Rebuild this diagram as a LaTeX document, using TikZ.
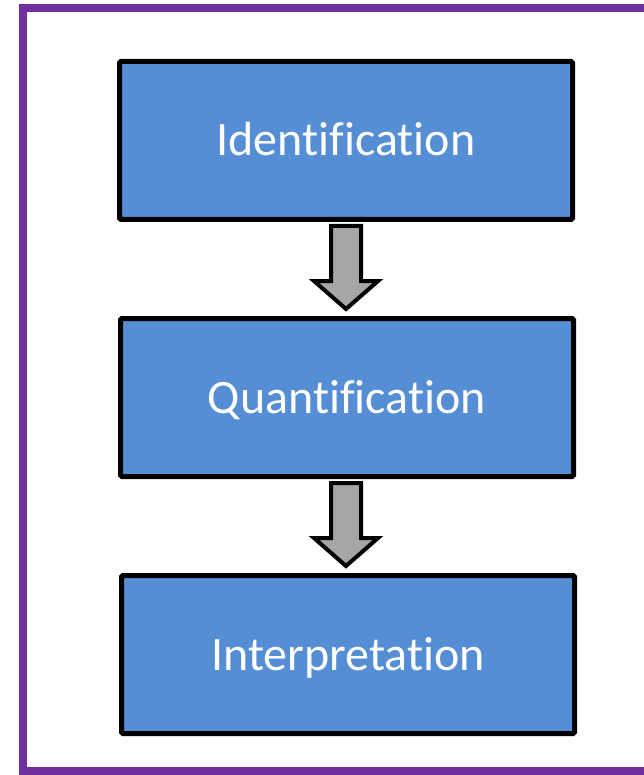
\documentclass[tikz,border=0pt]{standalone}
\usepackage{fontspec}
\setmainfont{Carlito}[Ligatures=NoCommon]
\usetikzlibrary{calc}
\definecolor{boxblue}{RGB}{85,142,213}
\definecolor{framepurple}{RGB}{112,48,160}
\definecolor{arrowgray}{RGB}{166,166,166}
\begin{document}
\begin{tikzpicture}[x=1pt,y=-1pt,
  stagebox/.style={draw=black,line width=5pt,fill=boxblue,rounded corners=1.5pt,
    minimum width=453pt,minimum height=158pt,inner sep=0pt,text=white,
    text height=31pt,text depth=0pt,
    font=\fontsize{48}{56}\selectfont},
  blockarrow/.style={draw=black,line width=4pt,fill=arrowgray,line join=miter}]
\useasboundingbox (0,0) rectangle (644,775);
\begin{scope}
\clip (0,0) rectangle (644,775);
\draw[framepurple,line width=8pt] (23,8) rectangle (660,771);
\end{scope}
\node[stagebox] (s1) at (346,140.5) {Identification};
\node[stagebox] (s2) at (347,397.5) {Quantification};
\node[stagebox] (s3) at (348,654.5) {Interpretation};
\coordinate (t1) at ($(s1.south)+(0,4)$);
\coordinate (t2) at ($(s2.south)+(-1,4)$);
\draw[blockarrow] ($(t1)+(-15,0)$) -- ($(t1)+(15,0)$) -- ($(t1)+(15,55)$) -- ($(t1)+(32,55)$)
  -- ($(t1)+(0,83)$) -- ($(t1)+(-32,55)$) -- ($(t1)+(-15,55)$) -- cycle;
\draw[blockarrow] ($(t2)+(-15,0)$) -- ($(t2)+(15,0)$) -- ($(t2)+(15,55)$) -- ($(t2)+(32,55)$)
  -- ($(t2)+(0,83)$) -- ($(t2)+(-32,55)$) -- ($(t2)+(-15,55)$) -- cycle;
\end{tikzpicture}
\end{document}
